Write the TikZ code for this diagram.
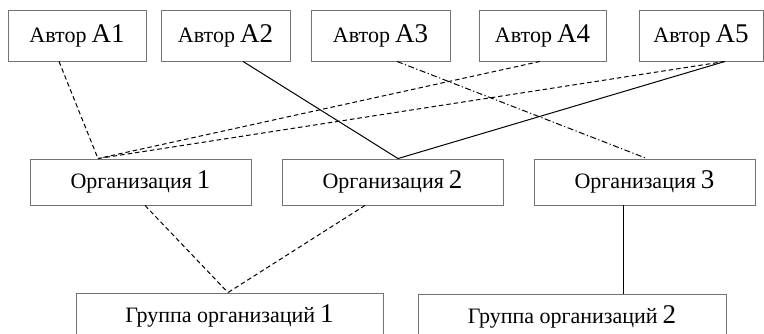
\documentclass[tikz,border=0pt]{standalone}
\usepackage{fontspec}
\setmainfont{Liberation Serif}
\usepackage{tikz}
\usetikzlibrary{positioning}

\newcommand{\txt}[2]{{\fontsize{22}{26}\selectfont #1\hspace{5pt}}{\fontsize{27}{30}\selectfont #2}}

\begin{document}
\begin{tikzpicture}[x=1pt, y=-1pt,
	authbox/.style={draw=black!55, line width=0.9pt, minimum height=51, inner sep=0, align=center},
	orgbox/.style={draw=black!55, line width=0.9pt, minimum width=221, minimum height=46, inner sep=0, align=center},
	grpbox/.style={draw=black!55, line width=0.9pt, minimum height=46, inner sep=0, align=center},
	dashline/.style={line width=1pt, dash pattern=on 4.5pt off 3pt},
	dotline/.style={line width=1pt, dash pattern=on 6pt off 2.5pt on 1.2pt off 2.5pt},
	solidline/.style={line width=1pt}
]
\useasboundingbox (0,0) rectangle (764,334);

\node[authbox, minimum width=138] (a1) at (77,35.5) {\txt{Автор}{A1}};
\node[authbox, minimum width=129] (a2) at (225.5,35.5) {\txt{Автор}{A2}};
\node[authbox, minimum width=139] (a3) at (380.5,35.5) {\txt{Автор}{A3}};
\node[authbox, minimum width=127] (a4) at (542.5,35.5) {\txt{Автор}{A4}};
\node[authbox, minimum width=124] (a5) at (701,35.5) {\txt{Автор}{A5}};

\node[orgbox] (org1) at (140.5,182) {\txt{Организация}{1}};
\node[orgbox] (org2) at (392.5,182) {\txt{Организация}{2}};
\node[orgbox] (org3) at (644.5,182) {\txt{Организация}{3}};

\node[grpbox, minimum width=307] (grp1) at (229.5,316) {\txt{Группа организаций}{1}};
\node[grpbox, minimum width=308] (grp2) at (572,317) {\txt{Группа организаций}{2}};

% meeting points
\coordinate (j1) at ([xshift=-42.5pt]org1.north);
\coordinate (j2) at ([xshift=5.5pt]org2.north);
\coordinate (j3) at ([xshift=-1.5pt]grp1.north);

\draw[dashline] ([xshift=-18pt]a1.south) -- (j1);
\draw[dashline] ([xshift=-2.5pt]a4.south) -- (j1);
\draw[dashline] ([xshift=24pt]a5.south) -- (j1);
\draw[solidline] ([xshift=17.5pt]a2.south) -- (j2);
\draw[solidline] ([xshift=24pt]a5.south) -- (j2);
\draw[dotline] ([xshift=16.5pt]a3.south) -- ([xshift=2.5pt]org3.north);

\draw[dashline] ([xshift=4.5pt]org1.south) -- (j3);
\draw[dashline] ([xshift=-27.5pt]org2.south) -- (j3);
\draw[solidline] ([xshift=-21.5pt]org3.south) -- ([xshift=51pt]grp2.north);
\end{tikzpicture}
\end{document}
